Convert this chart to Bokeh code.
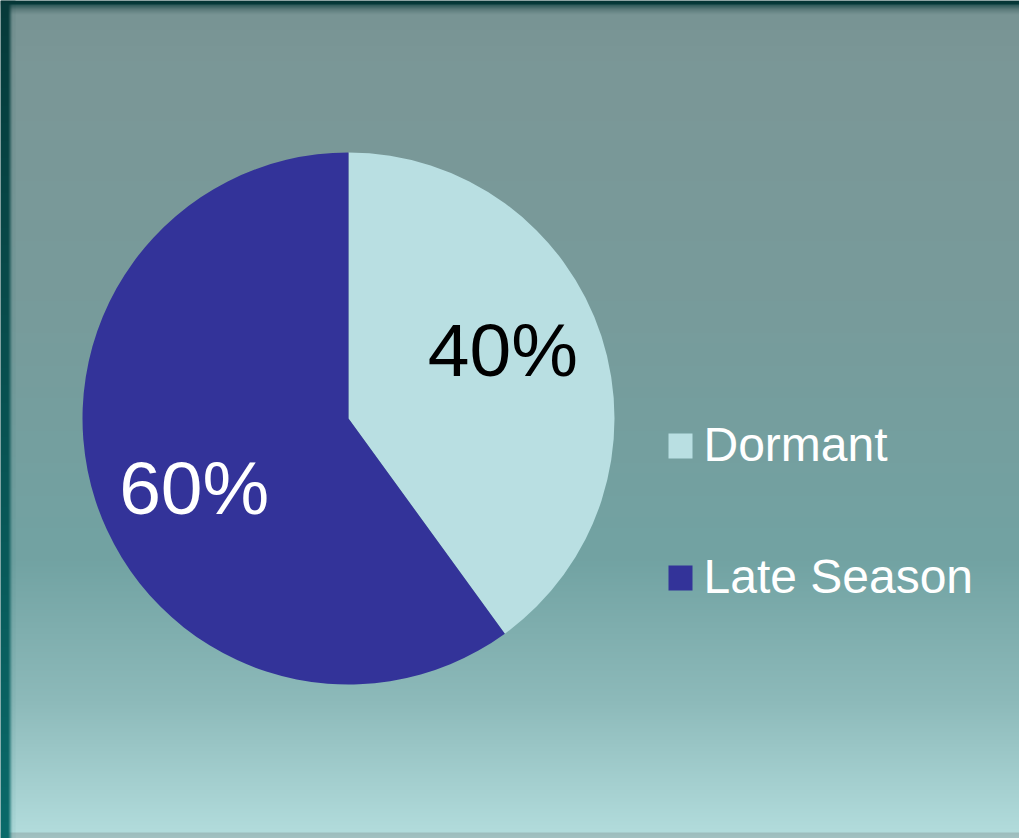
import numpy as np
from bokeh.plotting import figure
from bokeh.models import Range1d
from bokeh.core.properties import value
from bokeh.embed import file_html
from bokeh.resources import INLINE

# ---- data ----
categories = ["Dormant", "Late Season"]
values = [40, 60]
labels = ["40%", "60%"]
colors = ["#b9dfe2", "#333399"]
label_colors = ["#000000", "#ffffff"]

# ---- page geometry (pixel coordinates of the reference, y measured from top) ----
W, H = 1019, 838
X0, X1 = 0, W
YTOP, YBOT = 0, H
def fy(ypix):
    return H - ypix

p = figure(width=W, height=H, output_backend="svg", toolbar_location=None,
           x_range=Range1d(X0, X1), y_range=Range1d(0, H),
           min_border=0, outline_line_color=None)
p.axis.visible = False
p.grid.visible = False
p.background_fill_color = "#7a9696"
p.border_fill_color = "#7a9696"

def hex2rgb(h):
    h = h.lstrip("#")
    return [int(h[i:i + 2], 16) for i in (0, 2, 4)]

# ---- background vertical gradient (styling) ----
stops_y = [0, 4, 4.5, 9, 14, 60, 300, 560, 700, 831.5, 832, 838]
stops_c = ["#053535", "#063a3a", "#2e5a5a", "#5d7c7c", "#789494", "#7b9797",
           "#789b9b", "#72a3a3", "#8dbaba", "#b2dcdc", "#9dbdbd", "#a3c3c3"]
rows = np.arange(YTOP, YBOT) + 0.5
rgb = np.array([hex2rgb(c) for c in stops_c], dtype=float)
col = np.stack([np.interp(rows, stops_y, rgb[:, k]) for k in range(3)], axis=1)
N = len(rows)
img = np.empty((N, 1), dtype=np.uint32)
v = img.view(dtype=np.uint8).reshape((N, 1, 4))
v[:, 0, 0:3] = col.astype(np.uint8)
v[:, 0, 3] = 255
p.image_rgba(image=[img[::-1]], x=X0, y=0, dw=W, dh=H)

# left dark frame edge
cols_x = np.arange(0, 15) + 0.5
frame_top = np.array(hex2rgb("#063a3a"), float)
frame_bot = np.array(hex2rgb("#0a6a6a"), float)
left = np.empty((N, len(cols_x)), dtype=np.uint32)
lv = left.view(dtype=np.uint8).reshape((N, len(cols_x), 4))
t = ((rows - YTOP) / (YBOT - YTOP))[:, None]
fr = frame_top[None, :] * (1 - t) + frame_bot[None, :] * t
for j, xc in enumerate(cols_x):
    if xc < 8.5:
        a = 1.0
    elif xc < 9.5:
        a = 0.85
    elif xc < 10.5:
        a = 0.6
    elif xc < 11.5:
        a = 0.35
    elif xc < 12.5:
        a = 0.15
    else:
        a = 0.05
    mix = fr * a + col * (1 - a)
    top_mask = rows < 4
    mix[top_mask] = col[top_mask]
    lv[:, j, 0:3] = mix.astype(np.uint8)
    lv[:, j, 3] = 255
p.image_rgba(image=[left[::-1]], x=X0, y=0, dw=len(cols_x), dh=H)

# ---- pie ----
cx, cy, r = 348, fy(418), 266
vals = np.array(values, float)
frac = vals / vals.sum()
ends = np.pi / 2 - 2 * np.pi * np.cumsum(frac)
starts = np.concatenate([[np.pi / 2], ends[:-1]])
p.wedge(x=[cx] * len(values), y=[cy] * len(values), radius=r,
        start_angle=list(starts), end_angle=list(ends), direction="clock",
        fill_color=colors, line_color=None)

# data labels
mids = (starts + ends) / 2 + np.deg2rad(6)
lr = 0.635 * r
fs = 75
lx = cx + lr * np.cos(mids)
ly = cy + lr * np.sin(mids) - 0.716 * fs / 2 + 0.35 * fs
p.text(x=list(lx), y=list(ly), text=labels, text_color=label_colors,
       text_font=value("Liberation Sans"), text_font_size=f"{fs}px",
       text_align="center", text_baseline="alphabetic")

# ---- legend ----
leg_x, leg_y0, leg_dy = 680, 445.5, 132
lfs = 48
for i, (cat, c) in enumerate(zip(categories, colors)):
    yy = leg_y0 + i * leg_dy
    p.rect(x=[leg_x], y=[fy(yy)], width=24, height=25, fill_color=c, line_color=None)
    p.text(x=[leg_x + 23], y=[fy(yy + 15.5) + 0.35 * lfs], text=[cat], text_color="#ffffff",
           text_font=value("Liberation Sans"), text_font_size=f"{lfs}px",
           text_align="left", text_baseline="alphabetic")

open("out.html", "w").write(file_html(p, INLINE))
